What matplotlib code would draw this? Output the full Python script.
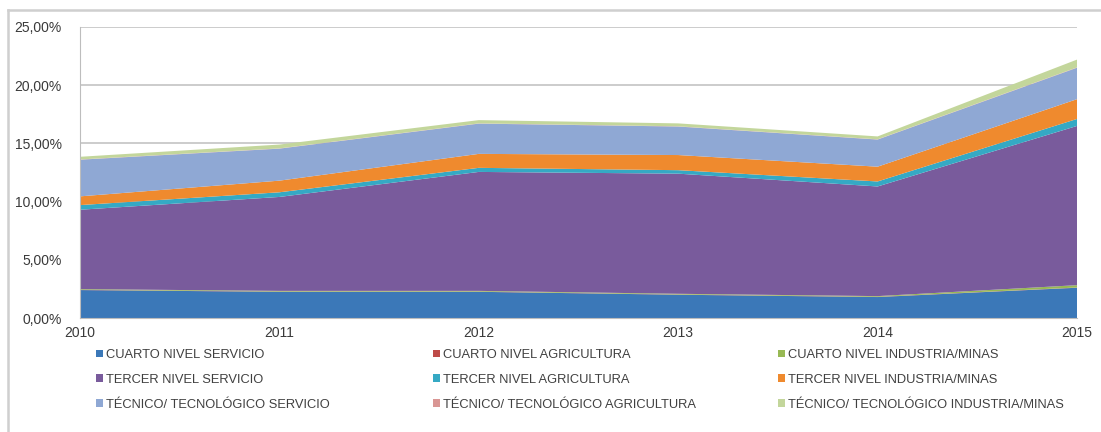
import numpy as np
import matplotlib.pyplot as plt
from matplotlib.patches import Patch
from matplotlib.lines import Line2D

years = [2010, 2011, 2012, 2013, 2014, 2015]

# porcentajes por serie (apiladas en este orden)
cuarto_servicio = [2.40, 2.25, 2.25, 2.00, 1.80, 2.60]
cuarto_agricultura = [0.02, 0.02, 0.02, 0.02, 0.02, 0.02]
cuarto_industria = [0.06, 0.06, 0.06, 0.06, 0.06, 0.20]
tercer_servicio = [6.82, 8.07, 10.22, 10.32, 9.42, 13.68]
tercer_agricultura = [0.40, 0.40, 0.35, 0.30, 0.43, 0.60]
tercer_industria = [0.75, 1.00, 1.20, 1.30, 1.27, 1.70]
tecnico_servicio = [3.15, 2.75, 2.60, 2.45, 2.33, 2.70]
tecnico_agricultura = [0.02, 0.02, 0.02, 0.02, 0.02, 0.03]
tecnico_industria = [0.23, 0.33, 0.28, 0.25, 0.25, 0.67]

labels = [
    "CUARTO NIVEL SERVICIO", "CUARTO NIVEL AGRICULTURA", "CUARTO NIVEL INDUSTRIA/MINAS",
    "TERCER NIVEL SERVICIO", "TERCER NIVEL AGRICULTURA", "TERCER NIVEL INDUSTRIA/MINAS",
    "TÉCNICO/ TECNOLÓGICO SERVICIO", "TÉCNICO/ TECNOLÓGICO AGRICULTURA",
    "TÉCNICO/ TECNOLÓGICO INDUSTRIA/MINAS",
]
colors = ["#3b78b8", "#be4b48", "#98b954",
          "#795b9c", "#35a9c4", "#ef8a2e",
          "#8fa8d4", "#d99694", "#c3d69b"]

series = [cuarto_servicio, cuarto_agricultura, cuarto_industria,
          tercer_servicio, tercer_agricultura, tercer_industria,
          tecnico_servicio, tecnico_agricultura, tecnico_industria]

plt.rcParams['font.family'] = ['Liberation Sans', 'DejaVu Sans']

fig = plt.figure(figsize=(11.01, 4.32), dpi=100)
ax = fig.add_axes([80 / 1101, 1 - 318 / 432, 997 / 1101, 291 / 432])

ax.stackplot(years, np.array(series) / 100, colors=colors, linewidth=0, zorder=2)

ax.set_xlim(2010, 2015)
ax.set_ylim(0, 0.25)
ax.set_yticks(np.arange(0, 0.2501, 0.05))
ax.yaxis.set_major_formatter(plt.FuncFormatter(lambda v, p: f"{v * 100:.2f}%".replace(".", ",")))
ax.set_xticks(years)
ax.grid(axis='y', color='#c4c4c4', linewidth=1.2, zorder=0)
ax.set_axisbelow(True)
for s in ['top', 'right']:
    ax.spines[s].set_visible(False)
ax.spines['left'].set_color('#bdbdbd')
ax.spines['bottom'].set_color('#bdbdbd')
ax.tick_params(length=0, labelsize=10, colors='#3a3a3a')
ax.tick_params(axis='x', pad=6)
ax.tick_params(axis='y', pad=13)

# marco exterior
fig.add_artist(Line2D([8 / 1101, 8 / 1101], [0, 1 - 10 / 432], transform=fig.transFigure,
                      color='#cfcfcf', lw=1.8))
fig.add_artist(Line2D([8 / 1101, 1], [1 - 10 / 432, 1 - 10 / 432], transform=fig.transFigure,
                      color='#cfcfcf', lw=1.8))

# leyenda en tres columnas
col_x = [96 / 1101, 433 / 1101, 778 / 1101]
for c in range(3):
    handles = [Patch(facecolor=colors[c + 3 * r], edgecolor='none') for r in range(3)]
    texts = [labels[c + 3 * r] for r in range(3)]
    leg = fig.legend(handles, texts, loc='upper left', bbox_to_anchor=(col_x[c], 1 - 349 / 432),
                     frameon=False, fontsize=9.3, handlelength=0.55, handleheight=0.55,
                     handletextpad=0.25, labelspacing=1.0, borderpad=0, borderaxespad=0)
    for t in leg.get_texts():
        t.set_color('#404040')

fig.savefig("out.png", dpi=100)
